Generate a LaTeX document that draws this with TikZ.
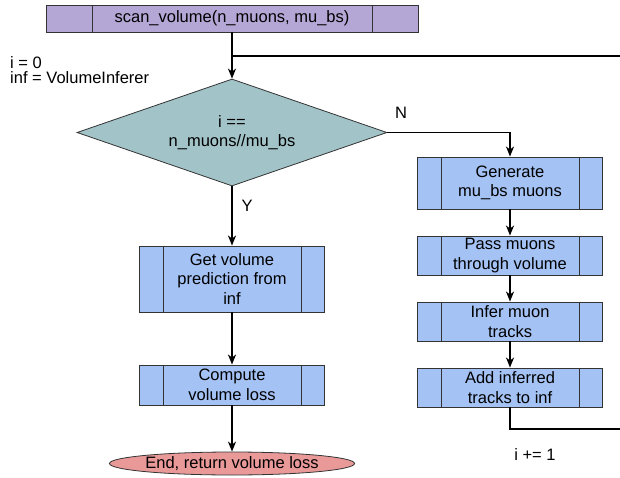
\documentclass[tikz,border=0pt]{standalone}
\usepackage{fontspec}
\setmainfont{Liberation Sans}
\usetikzlibrary{shapes.geometric,arrows.meta}
\definecolor{procpurple}{HTML}{B4A7D6}
\definecolor{decteal}{HTML}{A2C4C9}
\definecolor{procblue}{HTML}{A4C2F4}
\definecolor{endred}{HTML}{EA9999}
\definecolor{edgegray}{HTML}{333333}

\begin{document}
\begin{tikzpicture}[x=1pt,y=-1pt,
  every node/.style={font=\fontsize{16.5}{19.5}\selectfont, inner sep=0pt, align=center},
  proc/.style={rectangle, draw=edgegray, line width=0.9pt, fill=procblue, minimum width=185pt,
    path picture={\draw[edgegray, line width=0.9pt]
      ([xshift=#1]path picture bounding box.north west) -- ([xshift=#1]path picture bounding box.south west)
      ([xshift=-#1]path picture bounding box.north east) -- ([xshift=-#1]path picture bounding box.south east);}},
  proc/.default=23.5pt,
  flow/.style={line width=1.6pt, -{Stealth[length=10pt,width=8pt,inset=3pt]}},
  plain/.style={line width=1.6pt},
]
\useasboundingbox (0,0) rectangle (620,478);

% entry routine
\node[proc=46pt, fill=procpurple, minimum width=372pt, minimum height=27pt] (scan) at (232,18.5) {scan\_volume(n\_muons, mu\_bs)};
\node[anchor=west, align=left, font=\fontsize{16.5}{15}\selectfont] (init) at (10,70) {i = 0\\inf = VolumeInferer};

% loop test
\node[diamond, draw=edgegray, line width=0.8pt, fill=decteal, minimum width=310pt, minimum height=107pt, shape aspect=2.9] (test) at (232,132.5) {i ==\\n\_muons//mu\_bs};

% loop body
\node[proc, minimum height=52pt] (gen) at (510,183) {Generate\\mu\_bs muons};
\node[proc, minimum height=39pt] (pass) at (510,255.5) {Pass muons\\through volume};
\node[proc, minimum height=39pt] (infer) at (510,321.5) {Infer muon\\tracks};
\node[proc, minimum height=39pt] (add) at (510,387.5) {Add inferred\\tracks to inf};

% exit branch
\node[proc, minimum height=66pt] (pred) at (232,279) {Get volume\\prediction from\\inf};
\node[proc, minimum height=40pt] (loss) at (232,385) {Compute\\volume loss};
\node[ellipse, draw=edgegray, line width=0.8pt, fill=endred, minimum width=220pt, minimum height=23pt] (done) at (232,463.5) {End, return volume loss};

% labels
\node (nolabel) at (401,113) {N};
\node (yeslabel) at (247,206) {Y};
\node (inc) at (535,455) {i += 1};

% connectors
\coordinate (split) at (232,56);
\coordinate (loopTop) at (620,56);
\coordinate (loopBot) at (620,429);

\draw[flow] (scan) -- (test);
\draw[plain] (split) -- (loopTop);
\draw[flow] (test.east) -| (gen.north);
\draw[flow] (gen) -- (pass);
\draw[flow] (pass) -- (infer);
\draw[flow] (infer) -- (add);
\draw[plain] (add.south) |- (loopBot);
\draw[flow] (test.south) -- (pred.north);
\draw[flow] (pred) -- (loss);
\draw[flow] (loss) -- (done);
\end{tikzpicture}
\end{document}
